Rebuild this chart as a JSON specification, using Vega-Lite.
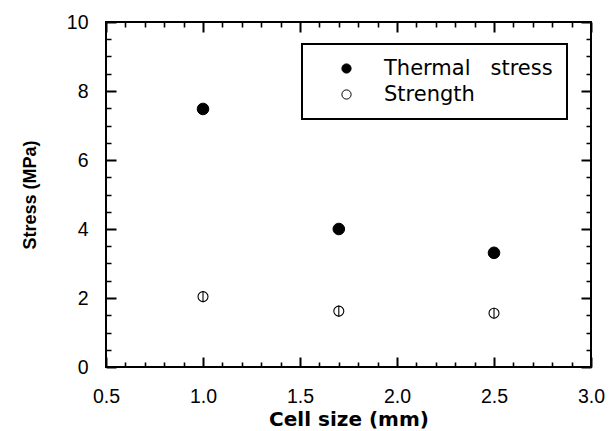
{
  "$schema": "https://vega.github.io/schema/vega-lite/v6.json",
  "autosize": "none",
  "width": 485,
  "height": 345,
  "padding": {"left": 106, "top": 22, "right": 20, "bottom": 64},
  "background": "white",
  "config": {
    "view": {"stroke": "black", "strokeWidth": 2},
    "legend": {"strokeWidth": 2},
    "axis": {
      "domain": false,
      "labelFont": "Liberation Sans",
      "labelFontSize": 19.5,
      "labelColor": "black",
      "titleColor": "black"
    }
  },
  "data": {
    "values": [
      {"cell": 1.0, "stress": 7.48, "series": "Thermal stress"},
      {"cell": 1.7, "stress": 4.0, "series": "Thermal stress"},
      {"cell": 2.5, "stress": 3.31, "series": "Thermal stress"},
      {"cell": 1.0, "stress": 2.04, "series": "Strength", "err": 0.16},
      {"cell": 1.7, "stress": 1.62, "series": "Strength", "err": 0.16},
      {"cell": 2.5, "stress": 1.56, "series": "Strength", "err": 0.16}
    ]
  },
  "encoding": {
    "x": {"field": "cell", "type": "quantitative", "scale": {"domain": [0.5, 3.0], "nice": false, "zero": false},
      "axis": {"orient": "bottom",
        "values": [0.5, 0.6, 0.7, 0.8, 0.9, 1.0, 1.1, 1.2, 1.3, 1.4, 1.5, 1.6, 1.7, 1.8, 1.9, 2.0, 2.1, 2.2, 2.3, 2.4, 2.5, 2.6, 2.7, 2.8, 2.9, 3.0],
        "labelExpr": "abs(datum.value*2 - round(datum.value*2)) < 0.001 ? format(datum.value, '.1f') : ''",
        "labelOverlap": false, "labelFlush": false,
        "ticks": false, "labelPadding": 20.5,
        "grid": true, "gridColor": "black", "gridOpacity": 1,
        "gridDash": {"condition": {"test": "abs(datum.value*2 - round(datum.value*2)) < 0.001", "value": [10, 325, 10, 1000]}, "value": [5, 335, 5, 1000]},
        "gridWidth": {"condition": {"test": "abs(datum.value*2 - round(datum.value*2)) < 0.001", "value": 2}, "value": 1.6},
        "title": "Cell size (mm)", "titleFont": "DejaVu Sans", "titleFontWeight": "bold", "titleFontSize": 20, "titlePadding": 3}},
    "y": {"field": "stress", "type": "quantitative", "scale": {"domain": [0, 10], "nice": false, "zero": false},
      "axis": {"orient": "left",
        "values": [0, 0.5, 1, 1.5, 2, 2.5, 3, 3.5, 4, 4.5, 5, 5.5, 6, 6.5, 7, 7.5, 8, 8.5, 9, 9.5, 10],
        "labelExpr": "abs(datum.value/2 - round(datum.value/2)) < 0.001 ? format(datum.value, 'd') : ''",
        "labelOverlap": false, "labelFlush": false,
        "ticks": false, "labelPadding": 18,
        "grid": true, "gridColor": "black", "gridOpacity": 1,
        "gridDash": {"condition": {"test": "abs(datum.value/2 - round(datum.value/2)) < 0.001", "value": [10, 465, 10, 1000]}, "value": [5, 475, 5, 1000]},
        "gridWidth": {"condition": {"test": "abs(datum.value/2 - round(datum.value/2)) < 0.001", "value": 2}, "value": 1.6},
        "title": "Stress (MPa)", "titleFont": "Liberation Sans", "titleFontWeight": "bold", "titleFontSize": 18, "titlePadding": 27}}
  },
  "layer": [
    {
      "transform": [{"filter": "datum.series === 'Thermal stress'"}],
      "mark": {"type": "point", "shape": "circle", "filled": true, "opacity": 1, "size": 135, "stroke": "black", "strokeWidth": 1},
      "encoding": {
        "fill": {"field": "series", "type": "nominal",
          "scale": {"domain": ["Thermal stress", "Strength"], "range": ["black", "white"]},
          "legend": {"title": null, "orient": "none", "legendX": 196, "legendY": 22, "padding": 14,
            "strokeColor": "black", "fillColor": "white",
            "symbolType": "circle", "symbolSize": 85, "symbolStrokeColor": "black", "symbolStrokeWidth": 1, "symbolOpacity": 1,
            "symbolOffset": 20, "labelOffset": 27, "rowPadding": 4, "labelLimit": 400,
            "labelExpr": "replace(datum.label, ' ', '\u00a0\u00a0\u00a0')",
            "labelFont": "DejaVu Sans", "labelFontSize": 21, "labelColor": "black"}}
      }
    },
    {
      "transform": [{"filter": "datum.series === 'Strength'"}],
      "mark": {"type": "point", "shape": "circle", "filled": true, "opacity": 1, "size": 100, "stroke": "black", "strokeWidth": 1.1},
      "encoding": {
        "fill": {"field": "series", "type": "nominal"}
      }
    },
    {
      "transform": [{"filter": "datum.series === 'Strength'"}],
      "mark": {"type": "errorbar", "color": "black", "rule": {"strokeWidth": 1.1}},
      "encoding": {
        "yError": {"field": "err"}
      }
    }
  ]
}
